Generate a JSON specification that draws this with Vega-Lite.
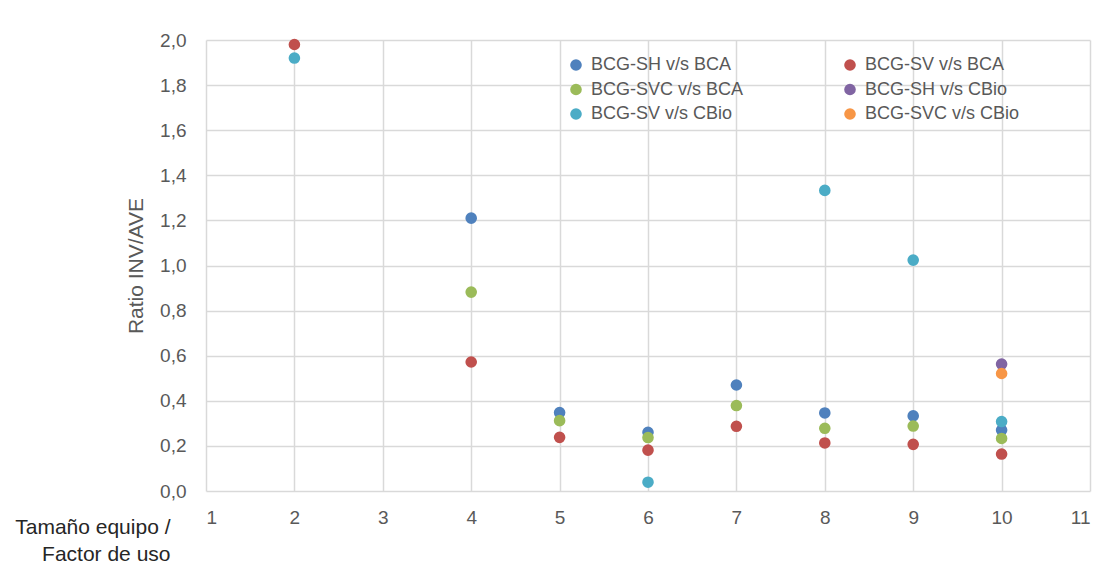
{
  "$schema": "https://vega.github.io/schema/vega-lite/v6.json",
  "autosize": {"type": "none"},
  "padding": {"left": 206, "top": 40, "right": 26, "bottom": 81},
  "width": 884,
  "height": 451,
  "background": "white",
  "config": {
    "view": {"stroke": null},
    "font": "Liberation Sans"
  },
  "data": {
    "values": [
      {"x": 4, "y": 1.21, "serie": "BCG-SH v/s BCA"},
      {"x": 5, "y": 0.348, "serie": "BCG-SH v/s BCA"},
      {"x": 6, "y": 0.26, "serie": "BCG-SH v/s BCA"},
      {"x": 7, "y": 0.47, "serie": "BCG-SH v/s BCA"},
      {"x": 8, "y": 0.346, "serie": "BCG-SH v/s BCA"},
      {"x": 9, "y": 0.333, "serie": "BCG-SH v/s BCA"},
      {"x": 10, "y": 0.27, "serie": "BCG-SH v/s BCA"},
      {"x": 2, "y": 1.98, "serie": "BCG-SV v/s BCA"},
      {"x": 4, "y": 0.572, "serie": "BCG-SV v/s BCA"},
      {"x": 5, "y": 0.238, "serie": "BCG-SV v/s BCA"},
      {"x": 6, "y": 0.181, "serie": "BCG-SV v/s BCA"},
      {"x": 7, "y": 0.287, "serie": "BCG-SV v/s BCA"},
      {"x": 8, "y": 0.213, "serie": "BCG-SV v/s BCA"},
      {"x": 9, "y": 0.207, "serie": "BCG-SV v/s BCA"},
      {"x": 10, "y": 0.164, "serie": "BCG-SV v/s BCA"},
      {"x": 4, "y": 0.882, "serie": "BCG-SVC v/s BCA"},
      {"x": 5, "y": 0.312, "serie": "BCG-SVC v/s BCA"},
      {"x": 6, "y": 0.237, "serie": "BCG-SVC v/s BCA"},
      {"x": 7, "y": 0.379, "serie": "BCG-SVC v/s BCA"},
      {"x": 8, "y": 0.278, "serie": "BCG-SVC v/s BCA"},
      {"x": 9, "y": 0.288, "serie": "BCG-SVC v/s BCA"},
      {"x": 10, "y": 0.233, "serie": "BCG-SVC v/s BCA"},
      {"x": 10, "y": 0.563, "serie": "BCG-SH v/s CBio"},
      {"x": 2, "y": 1.92, "serie": "BCG-SV v/s CBio"},
      {"x": 6, "y": 0.039, "serie": "BCG-SV v/s CBio"},
      {"x": 8, "y": 1.333, "serie": "BCG-SV v/s CBio"},
      {"x": 9, "y": 1.024, "serie": "BCG-SV v/s CBio"},
      {"x": 10, "y": 0.308, "serie": "BCG-SV v/s CBio"},
      {"x": 10, "y": 0.521, "serie": "BCG-SVC v/s CBio"}
    ]
  },
  "mark": {"type": "point", "filled": true, "opacity": 1, "size": 135, "shape": "circle"},
  "encoding": {
    "x": {
      "field": "x",
      "type": "quantitative",
      "scale": {"domain": [1, 11], "nice": false, "zero": false},
      "axis": {
        "values": [1, 2, 3, 4, 5, 6, 7, 8, 9, 10, 11],
        "grid": true,
        "gridColor": "#D9D9D9",
        "gridWidth": 1.5,
        "domain": false,
        "ticks": false,
        "labelFontSize": 19,
        "labelColor": "#595959",
        "labelPadding": 17,
        "title": ["Tamaño equipo /", "Factor de uso"],
        "titleFontSize": 21,
        "titleFontWeight": "normal",
        "titleColor": "#262626",
        "titleAlign": "right",
        "titleAnchor": null,
        "titleBaseline": "alphabetic",
        "titleX": -36,
        "titleY": 42,
        "titleLineHeight": 27
      }
    },
    "y": {
      "field": "y",
      "type": "quantitative",
      "scale": {"domain": [0, 2], "nice": false},
      "axis": {
        "values": [0, 0.2, 0.4, 0.6, 0.8, 1.0, 1.2, 1.4, 1.6, 1.8, 2.0],
        "labelExpr": "replace(format(datum.value, '.1f'), '.', ',')",
        "grid": true,
        "gridColor": "#D9D9D9",
        "gridWidth": 1.5,
        "domain": false,
        "ticks": false,
        "labelFontSize": 19,
        "labelColor": "#595959",
        "labelPadding": 20,
        "title": "Ratio INV/AVE",
        "titleFontSize": 21,
        "titleFontWeight": "normal",
        "titleColor": "#595959",
        "titlePadding": 13
      }
    },
    "color": {
      "field": "serie",
      "type": "nominal",
      "scale": {
        "domain": ["BCG-SH v/s BCA", "BCG-SV v/s BCA", "BCG-SVC v/s BCA", "BCG-SH v/s CBio", "BCG-SV v/s CBio", "BCG-SVC v/s CBio"],
        "range": ["#4F81BD", "#C0504D", "#9BBB59", "#8064A2", "#4BACC6", "#F79646"]
      },
      "legend": {
        "title": null,
        "orient": "none",
        "direction": "horizontal",
        "legendX": 361,
        "legendY": 16,
        "columns": 2,
        "columnPadding": 97,
        "rowPadding": 6.5,
        "symbolType": "circle",
        "symbolSize": 135,
        "symbolStrokeWidth": 0,
        "symbolOpacity": 1,
        "labelFontSize": 18,
        "labelColor": "#595959",
        "labelOffset": 6,
        "labelLimit": 300,
        "padding": 0
      }
    }
  }
}
